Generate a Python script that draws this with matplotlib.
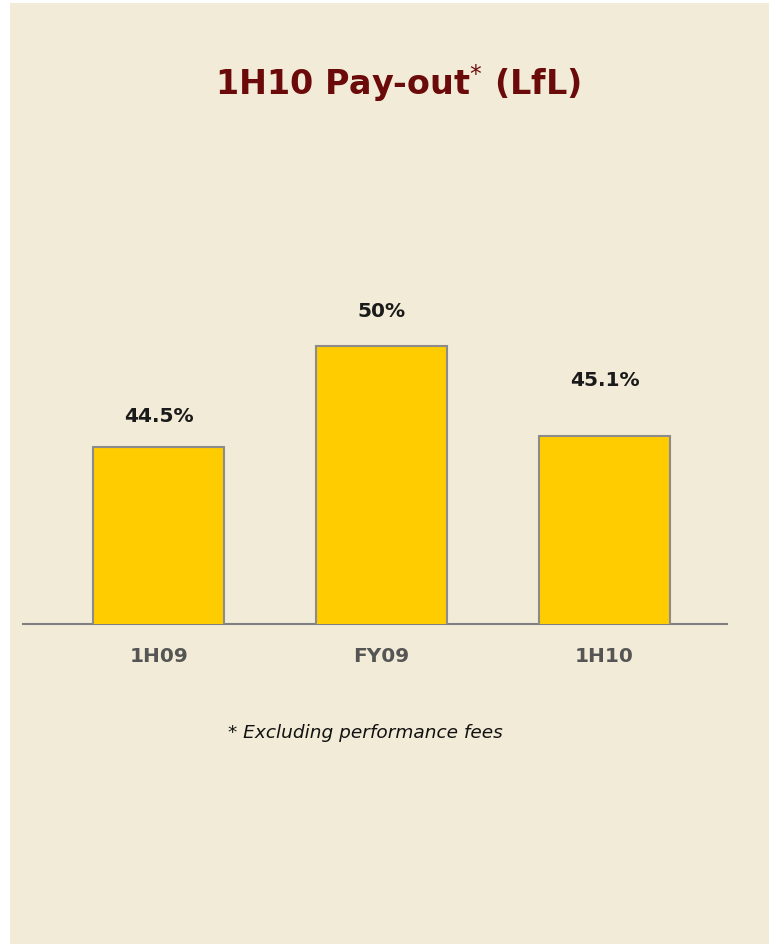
import matplotlib.pyplot as plt
import matplotlib.patches as mpatches
import matplotlib.transforms as mtransforms

# ── Data ───────────────────────────────────────────────────────────────────────
periods = ["1H09", "FY09", "1H10"]
payout = [44.5, 50.0, 45.1]
payout_labels = ["44.5%", "50%", "45.1%"]

# ── Style ──────────────────────────────────────────────────────────────────────
BG        = "#F2EBD7"
BAR_FILL  = "#FFCC00"
BAR_EDGE  = "#8C8C8C"
TITLE_COL = "#6B0A0A"
TICK_COL  = "#555555"
label_pad_px = [31, 35, 56]   # gap between bar top and value label centre

fig = plt.figure(figsize=(7.69, 9.44), dpi=100)
fig.patch.set_facecolor("white")
fig.add_artist(mpatches.Rectangle(
    (10 / 769, 0), 1 - 10 / 769, 941 / 944,
    transform=fig.transFigure, facecolor=BG, edgecolor="none", zorder=-10,
))

ax = fig.add_axes([23 / 769, 320 / 944, 704 / 769, 524 / 944])
ax.set_facecolor("none")

x = list(range(len(periods)))
ax.bar(x, payout, bottom=0, width=0.59, color=BAR_FILL,
       edgecolor=BAR_EDGE, linewidth=1.5, zorder=3)
ax.set_xlim(-0.608, 2.549)
ax.set_ylim(34.9, 63.4)

for s in ["top", "right", "left"]:
    ax.spines[s].set_visible(False)
ax.spines["bottom"].set_color("#808080")
ax.spines["bottom"].set_linewidth(1.5)
ax.set_yticks([])
ax.set_xticks(x)
ax.set_xticklabels(periods, fontsize=14.5, fontweight="bold", color=TICK_COL)
ax.tick_params(axis="x", length=0, pad=16.5)

for xi, v, lab, pad in zip(x, payout, payout_labels, label_pad_px):
    off = mtransforms.offset_copy(ax.transData, fig=fig, x=0, y=pad * 72 / 100, units="points")
    ax.text(xi, v, lab, transform=off, ha="center", va="center",
            fontsize=14.5, fontweight="bold", color="#1a1a1a")

fig.text(398 / 769, 1 - 83 / 944, "1H10 Pay-out$^{*}$ (LfL)", ha="center", va="center",
         fontsize=24, fontweight="bold", color=TITLE_COL)
fig.text(365 / 769, 1 - 733 / 944, "* Excluding performance fees", ha="center", va="center",
         fontsize=13.3, style="italic", color="#111111")

fig.savefig("out.png", dpi=100, facecolor=fig.get_facecolor())
